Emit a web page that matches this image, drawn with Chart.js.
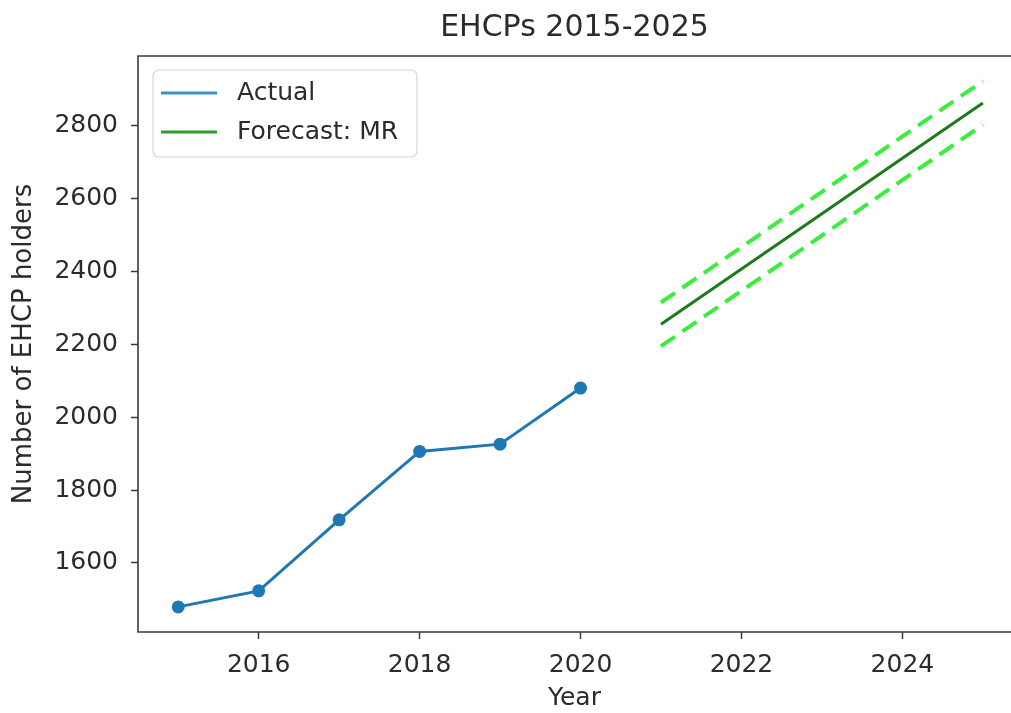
<!DOCTYPE html>
<html>
<head>
<meta charset="utf-8">
<script src="https://cdn.jsdelivr.net/npm/chart.js@4.4.1/dist/chart.umd.min.js"></script>
<style>
  html, body { margin: 0; padding: 0; background: #fff; overflow: hidden; }
  #ehcp-chart { display: block; }
</style>
</head>
<body>
<canvas id="ehcp-chart" width="1011" height="713"></canvas>
<script>
// Data
const actual_years = [2015, 2016, 2017, 2018, 2019, 2020];
const actual_values = [1479, 1523, 1718, 1906, 1926, 2080];

const forecast_years = [2021, 2022, 2023, 2024, 2025];
const forecast_values = [2255, 2407, 2559, 2711, 2863];
const upper_values = [2315, 2467, 2619, 2771, 2923];
const lower_values = [2195, 2347, 2499, 2651, 2803];

const x_ticks = [2016, 2018, 2020, 2022, 2024];
const y_ticks = [1600, 1800, 2000, 2200, 2400, 2600, 2800];

const FONT = "'DejaVu Sans', sans-serif";
const INK = '#2b2b2b';

function pairs(xs, ys) {
  return xs.map((x, i) => ({ x: x, y: ys[i] }));
}

// Frame round the plot area (right side is cropped off in the original) plus the legend box
const framePlugin = {
  id: 'frame',
  afterDatasetsDraw(chart) {
    const { ctx, chartArea: a } = chart;
    ctx.save();
    ctx.strokeStyle = '#3a3a3a';
    ctx.lineWidth = 1.6;
    ctx.beginPath();
    ctx.moveTo(chart.width, a.top);
    ctx.lineTo(a.left, a.top);
    ctx.lineTo(a.left, a.bottom);
    ctx.lineTo(chart.width, a.bottom);
    ctx.stroke();

    // legend
    const bx = a.left + 15, by = a.top + 14, bw = 264, bh = 87, r = 6;
    ctx.beginPath();
    ctx.roundRect(bx, by, bw, bh, r);
    ctx.fillStyle = 'rgba(255,255,255,0.85)';
    ctx.fill();
    ctx.strokeStyle = '#d6d6d6';
    ctx.lineWidth = 1.2;
    ctx.stroke();

    const shown = chart.data.datasets.filter(d => d.inLegend);
    shown.forEach((d, i) => {
      const y = by + 23 + i * 39;
      ctx.beginPath();
      ctx.moveTo(bx + 8, y);
      ctx.lineTo(bx + 64, y);
      ctx.strokeStyle = d.legendColor || d.borderColor;
      ctx.lineWidth = 3;
      ctx.setLineDash([]);
      ctx.stroke();
      ctx.fillStyle = INK;
      ctx.font = '25px ' + FONT;
      ctx.textBaseline = 'middle';
      ctx.textAlign = 'left';
      ctx.fillText(d.label, bx + 84, y);
    });
    ctx.restore();
  }
};

const ehcp_data = {
  datasets: [
    {
      label: 'Actual',
      inLegend: true,
      legendColor: '#3f8fc8',
      data: pairs(actual_years, actual_values),
      borderColor: '#1f77b4',
      backgroundColor: '#1f77b4',
      borderWidth: 3,
      pointRadius: 6.5,
      pointHoverRadius: 6.5,
      pointBorderWidth: 0
    },
    {
      label: 'Forecast: MR',
      inLegend: true,
      legendColor: '#2ca02c',
      data: pairs(forecast_years, forecast_values),
      borderColor: '#1d7a1d',
      borderWidth: 3,
      pointRadius: 0
    },
    {
      label: 'Upper',
      data: pairs(forecast_years, upper_values),
      borderColor: '#3ded3d',
      borderWidth: 4,
      borderDash: [17, 9],
      pointRadius: 0
    },
    {
      label: 'Lower',
      data: pairs(forecast_years, lower_values),
      borderColor: '#3ded3d',
      borderWidth: 4,
      borderDash: [17, 9],
      pointRadius: 0
    }
  ]
};

const ehcp_config = {
  type: 'line',
  data: ehcp_data,
  plugins: [framePlugin],
  options: {
    responsive: false,
    animation: false,
    layout: { autoPadding: false, padding: 0 },
    plugins: {
      legend: { display: false },
      tooltip: { enabled: false },
      title: {
        display: true,
        text: 'EHCPs 2015-2025',
        fullSize: false,
        color: INK,
        font: { family: FONT, size: 30, weight: 'normal', lineHeight: 1.2 },
        padding: { top: 10, bottom: 10 }
      }
    },
    scales: {
      x: {
        type: 'linear',
        min: 2014.5,
        max: 2025.35,
        afterBuildTicks: axis => { axis.ticks = x_ticks.map(v => ({ value: v })); },
        afterFit: axis => {
          axis.height = 81;
          axis.paddingLeft = 0;
          axis.paddingRight = 0;
        },
        grid: { drawOnChartArea: false, drawTicks: true, tickLength: 7, tickColor: '#3a3a3a', tickWidth: 1.5 },
        border: { display: false },
        ticks: {
          color: INK,
          padding: 11,
          maxRotation: 0,
          font: { family: FONT, size: 25 },
          callback: v => String(v)
        },
        title: {
          display: true,
          text: 'Year',
          color: INK,
          font: { family: FONT, size: 25, lineHeight: 1.2 },
          padding: { top: 0, bottom: 0 }
        }
      },
      y: {
        type: 'linear',
        min: 1410,
        max: 2992,
        afterBuildTicks: axis => { axis.ticks = y_ticks.map(v => ({ value: v })); },
        afterFit: axis => {
          axis.width = 138;
          axis.paddingTop = 0;
          axis.paddingBottom = 0;
        },
        grid: { drawOnChartArea: false, drawTicks: true, tickLength: 7, tickColor: '#3a3a3a', tickWidth: 1.5 },
        border: { display: false },
        ticks: {
          color: INK,
          padding: 13,
          font: { family: FONT, size: 25 },
          callback: v => String(v)
        },
        title: {
          display: true,
          text: 'Number of EHCP holders',
          color: INK,
          font: { family: FONT, size: 26, lineHeight: 1.2 },
          padding: { top: 9, bottom: 0 }
        }
      }
    }
  }
};

var ehcpChart = new Chart(
  document.getElementById('ehcp-chart'),
  ehcp_config
);
</script>
</body>
</html>
